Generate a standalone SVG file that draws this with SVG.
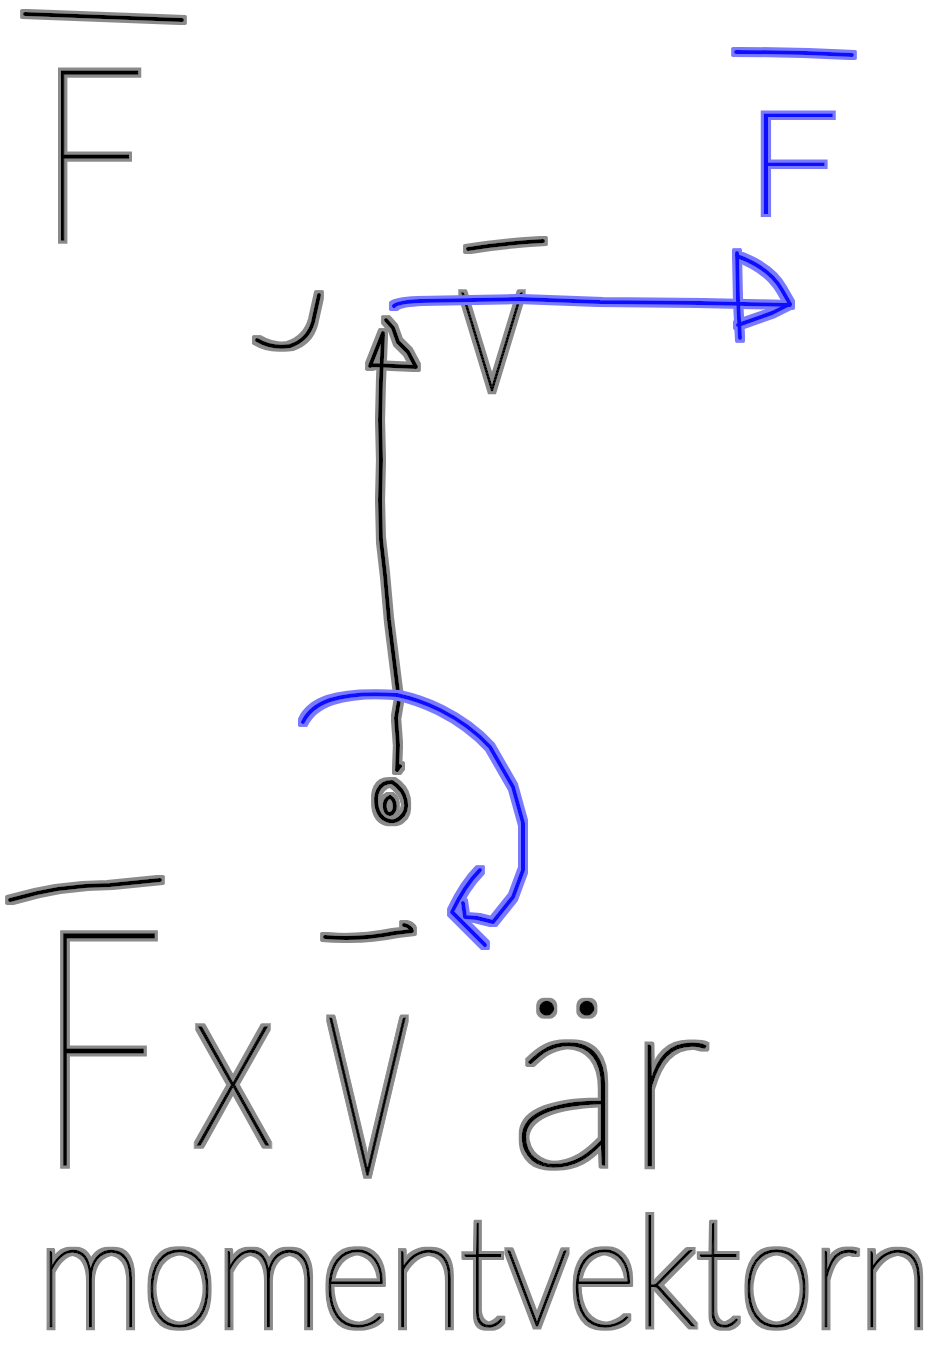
<svg xmlns="http://www.w3.org/2000/svg" width="941" height="1360" viewBox="0 0 941 1360">
<style>
.k{fill:none;stroke:#000;stroke-width:4;stroke-linecap:round;stroke-linejoin:round}
.b{fill:none;stroke:#1010ff;stroke-width:4;stroke-linecap:round;stroke-linejoin:round}
.tk{font-family:Lato,Roboto,"Open Sans",sans-serif;font-weight:100;fill:#000;stroke:#000;stroke-width:1.5}
.tb{font-family:Lato,Roboto,"Open Sans",sans-serif;font-weight:100;fill:#1010ff;stroke:#1010ff;stroke-width:2}
</style>
<defs>
<filter id="haloK" filterUnits="userSpaceOnUse" x="0" y="0" width="941" height="1360">
<feMorphology in="SourceAlpha" operator="dilate" radius="2.5" result="d"/>
<feFlood flood-color="#8a8a8a"/>
<feComposite in2="d" operator="in" result="h"/>
<feMerge><feMergeNode in="h"/><feMergeNode in="SourceGraphic"/></feMerge>
</filter>
<filter id="haloB" filterUnits="userSpaceOnUse" x="0" y="0" width="941" height="1360">
<feMorphology in="SourceAlpha" operator="dilate" radius="2.5" result="d"/>
<feFlood flood-color="#7a7aff"/>
<feComposite in2="d" operator="in" result="h"/>
<feMerge><feMergeNode in="h"/><feMergeNode in="SourceGraphic"/></feMerge>
</filter>
</defs>
<rect width="941" height="1360" fill="#fff"/>

<g id="node-F-top" filter="url(#haloK)">
<path class="k" d="M25,14 Q100,17 182,20"/>
<text class="tk" x="40" y="240" font-size="240" textLength="105" lengthAdjust="spacingAndGlyphs">F</text>
</g>

<g id="node-F-blue" filter="url(#haloB)">
<path class="b" d="M736,52 Q795,52 852,55"/>
<text class="tb" x="746" y="213" font-size="140" textLength="92" lengthAdjust="spacingAndGlyphs">F</text>
</g>

<g id="node-v" filter="url(#haloK)">
<path class="k" d="M468,249 Q505,243 543,241"/>
<text class="tk" x="458" y="390" font-size="198" textLength="68" lengthAdjust="spacingAndGlyphs">v</text>
</g>

<g id="node-mark" filter="url(#haloK)">
<path class="k" d="M257,340 Q272,349 290,346 Q308,340 313,322 L319,295"/>
</g>

<g id="node-origin" filter="url(#haloK)">
<path class="k" d="M392,782 C378,782 374,795 377,808 C380,820 392,825 400,818 C410,810 408,792 392,782 Z"/>
<path class="k" d="M390,797 C382,800 384,815 390,814 C397,812 396,800 390,797"/>
</g>

<g id="connectors">
<g filter="url(#haloK)">
<path class="k" d="M400,766 L397,770 L398,745 L396,718 L399,700 L394,660 L389,620 L385,575 L381,540 L380,500 L381,460 L380,420 L381,380 L383,335"/>
<path class="k" d="M370,366 L383,333 M371,365 L416,367 L408,352 L398,342 L393,328 L386,320"/>
</g>
<g filter="url(#haloB)">
<path class="b" d="M394,306 Q398,302 420,301 L520,299 L600,302 L700,303 L790,305"/>
<path class="b" d="M737,253 L738,300 L740,338 M737,256 Q770,268 782,290 L790,304 L772,313 L738,325"/>
<path class="b" d="M303,722 Q310,707 330,700 Q355,692 397,695 Q420,700 440,710 Q470,725 490,747 L513,787 L523,823 L523,870 L513,897 L493,922 L477,918 L465,917 L463,903"/>
<path class="b" d="M480,870 Q465,885 452,912 L485,945"/>
</g>
</g>

<g id="node-formula" filter="url(#haloK)">
<path class="k" d="M10,900 Q60,885 110,885 L160,880"/>
<text class="tk" x="38" y="1165" font-size="330" textLength="125" lengthAdjust="spacingAndGlyphs">F</text>
<text class="tk" x="192" y="1145" font-size="240" textLength="82" lengthAdjust="spacingAndGlyphs">x</text>
<path class="k" d="M325,937 Q360,940 395,933 L412,931 Q410,926 404,925"/>
<text class="tk" x="325" y="1175" font-size="320" textLength="85" lengthAdjust="spacingAndGlyphs">v</text>
<text class="tk" x="510" y="1165" font-size="245" textLength="200" lengthAdjust="spacingAndGlyphs">är</text>
</g>

<g id="node-text" filter="url(#haloK)">
<text class="tk" x="38" y="1326" font-size="152" textLength="893" lengthAdjust="spacingAndGlyphs">momentvektorn</text>
</g>
</svg>
